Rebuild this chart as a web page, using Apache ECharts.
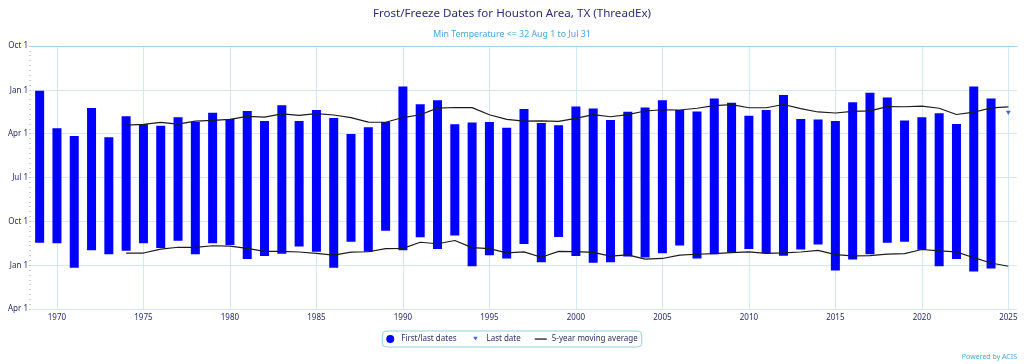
<!DOCTYPE html>
<html>
<head>
<meta charset="utf-8">
<script src="https://cdn.jsdelivr.net/npm/echarts@6/dist/echarts.min.js"></script>
<style>
html,body{margin:0;padding:0;background:#ffffff;}
#chart{width:1024px;height:364px;}
</style>
</head>
<body>
<div id="chart"></div>
<script>
// Season years with a complete frost/freeze season (bars)
const years = [1969,1970,1971,1972,1973,1974,1975,1976,1977,1978,1979,1980,1981,1982,1983,1984,1985,1986,1987,1988,1989,1990,1991,1992,1993,1994,1995,1996,1997,1998,1999,2000,2001,2002,2003,2004,2005,2006,2007,2008,2009,2010,2011,2012,2013,2014,2015,2016,2017,2018,2019,2020,2021,2022,2023,2024];
// Values are days after Oct 1 of the previous year (Jan 1 = 92, Apr 1 = 182, Oct 1 = 365, next Jan 1 = 457)
// Last (spring) freeze dates
const lastDates = [93,171,187,129,190,146,163,166,148,158,139,152,135,156,123,156,133,150,183,169,158,84,121,113,163,159,158,170,131,160,165,126,130,154,137,128,113,133,136,109,118,145,133,102,152,153,156,117,97,107,155,148,140,162,84,109];
// First (fall) freeze dates
const firstDates = [409,410,461,425,433,426,410,420,405,433,410,414,443,437,432,417,428,461,407,428,384,425,398,422,394,458,435,442,412,450,397,437,451,450,438,440,431,415,442,433,430,422,431,436,423,413,467,444,433,409,407,424,458,443,469,463];
// Season with only a last date so far
const lastOnlyYears = [2025];
const lastOnlyDates = [139];
// 5-year moving averages
const maYears = [1974,1975,1976,1977,1978,1979,1980,1981,1982,1983,1984,1985,1986,1987,1988,1989,1990,1991,1992,1993,1994,1995,1996,1997,1998,1999,2000,2001,2002,2003,2004,2005,2006,2007,2008,2009,2010,2011,2012,2013,2014,2015,2016,2017,2018,2019,2020,2021,2022,2023,2024,2025];
const maLast = [164.6,162.9,158.7,162.5,156.2,154.8,152.7,146.5,148.1,141,144.4,140.5,143.5,148.9,158.2,158.6,148.8,143,129.1,127.9,128.1,142.9,152.7,156.3,155.8,156.9,150.6,142.6,147.2,142.6,135.2,132.6,133.1,129.5,123.9,121.9,128.4,128.4,121.7,130.2,137.2,139.3,136.1,134.9,126,126.4,124.9,129.5,142.5,137.7,128.6,126.8];
const maFirst = [430.7,430.6,422.5,418.6,418.7,415.5,416.3,421,427.2,427,428.4,431.2,434.8,428.8,427.9,421.4,420.8,408.2,411.3,404.6,419.4,421.4,430.2,428.1,439.3,427.1,427.5,429.2,436.9,434.5,443.2,441.9,434.8,433.1,432,429.9,428.2,431.4,430.3,428.4,425,434,436.5,435.8,433,431.9,423.3,426.1,428.2,440.3,451.3,458.1];
// Axis ticks
const yTickValues = [0,92,182,273,365,457,547];
const yTickLabels = ['Oct 1','Jan 1','Apr 1','Jul 1','Oct 1','Jan 1','Apr 1'];
const xTickYears = [1970,1975,1980,1985,1990,1995,2000,2005,2010,2015,2020,2025];

const FONT = 'Noto Sans, DejaVu Sans, sans-serif';
const NAVY = '#262a6e';
const GRID = '#d5e7f0';

const barData = years.map((y, i) => [y, lastDates[i], firstDates[i]]);
const lastOnlyData = lastOnlyYears.map((y, i) => [y, lastOnlyDates[i]]);
const maLastData = maYears.map((y, i) => [y, maLast[i]]);
const maFirstData = maYears.map((y, i) => [y, maFirst[i]]);

const chart = echarts.init(document.getElementById('chart'), null, {renderer: 'canvas'});
chart.setOption({
  animation: false,
  backgroundColor: '#ffffff',
  title: [
    {text: 'Frost/Freeze Dates for Houston Area, TX (ThreadEx)', left: 'center', top: 3,
     textStyle: {fontFamily: FONT, fontSize: 11.6, fontWeight: 'normal', color: '#2b2c78'}},
    {text: 'Min Temperature <= 32 Aug 1 to Jul 31', left: 'center', top: 25,
     textStyle: {fontFamily: FONT, fontSize: 8.8, fontWeight: 'normal', color: '#4aa6d6'}}
  ],
  graphic: [{
    type: 'text', right: 7, top: 353,
    style: {text: 'Powered by ACIS', fontFamily: FONT, fontSize: 7, fill: '#4aa6d6'}
  }],
  legend: {
    left: 'center', top: 331,
    padding: [4, 4, 4, 4],
    itemWidth: 12, itemHeight: 8, itemGap: 14,
    borderColor: '#98cbe2', borderWidth: 1, borderRadius: 4,
    textStyle: {fontFamily: FONT, fontSize: 8, color: '#2b2f62'},
    data: [
      {name: 'First/last dates', icon: 'circle'},
      {name: 'Last date', icon: 'path://M0,0M20,16M5.5,3.5L14.5,3.5L10,11Z'},
      {name: '5-year moving average', icon: 'path://M0,0M12,8M0,3.4L12,3.4L12,4.7L0,4.7Z'}
    ]
  },
  grid: {left: 31, right: 7, top: 46, bottom: 55, containLabel: false},
  xAxis: {
    type: 'value', min: 1968.5, max: 2025.5,
    axisLine: {show: true, lineStyle: {color: '#a8d0e2', width: 1}},
    axisTick: {show: false, customValues: xTickYears},
    axisLabel: {customValues: xTickYears, fontFamily: FONT, fontSize: 8, color: NAVY, margin: 5,
                formatter: v => String(v)},
    splitLine: {show: true, lineStyle: {color: GRID, width: 1}}
  },
  yAxis: [{
    type: 'value', inverse: true, min: 0, max: 547,
    axisLine: {show: false},
    axisTick: {show: false, customValues: yTickValues},
    axisLabel: {customValues: yTickValues, fontFamily: FONT, fontSize: 8, color: NAVY, margin: 3,
                formatter: v => yTickLabels[yTickValues.indexOf(v)]},
    splitLine: {show: true, lineStyle: {color: GRID, width: 1}}
  }, {
    type: 'value', inverse: true, min: 0, max: 547, interval: 547 / 54, position: 'left',
    axisLine: {show: false},
    axisTick: {show: true, length: 2, lineStyle: {color: '#cfcfcf', width: 1}},
    axisLabel: {show: false},
    splitLine: {show: false}
  }],
  series: [
    {
      name: 'First/last dates', type: 'custom', xAxisIndex: 0, yAxisIndex: 0,
      itemStyle: {color: '#0000ff'},
      encode: {x: 0, y: [1, 2]},
      data: barData,
      renderItem: function (params, api) {
        const x = api.value(0);
        const p1 = api.coord([x, api.value(1)]);
        const p2 = api.coord([x, api.value(2)]);
        const w = 9;
        return {
          type: 'rect',
          shape: {x: p1[0] - w / 2, y: Math.min(p1[1], p2[1]), width: w, height: Math.abs(p2[1] - p1[1])},
          style: {fill: '#0000ff'}
        };
      },
      z: 2
    },
    {
      name: 'Last date', type: 'scatter', xAxisIndex: 0, yAxisIndex: 0,
      symbol: 'path://M0,0L10,0L5,8Z', symbolSize: [5, 4],
      itemStyle: {color: '#2440b8'},
      data: lastOnlyData, z: 3
    },
    {
      name: '5-year moving average', type: 'line', xAxisIndex: 0, yAxisIndex: 0,
      symbol: 'none', smooth: false,
      lineStyle: {color: '#1c1c1c', width: 1.2},
      itemStyle: {color: '#1c1c1c'},
      data: maLastData, z: 4
    },
    {
      name: '5-year moving average', type: 'line', xAxisIndex: 0, yAxisIndex: 0,
      symbol: 'none', smooth: false,
      lineStyle: {color: '#1c1c1c', width: 1.2},
      itemStyle: {color: '#1c1c1c'},
      data: maFirstData, z: 4
    }
  ]
});
</script>
</body>
</html>
